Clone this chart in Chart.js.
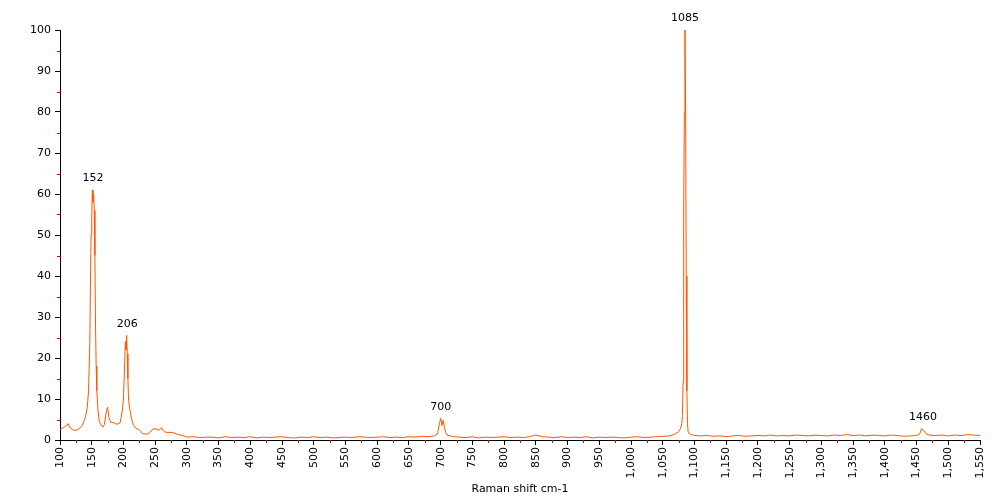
<!DOCTYPE html>
<html>
<head>
<meta charset="utf-8">
<script src="https://cdn.jsdelivr.net/npm/chart.js@4"></script>
<style>
  html, body { margin: 0; padding: 0; background: #fff; }
  #wrap { width: 1000px; height: 500px; }
</style>
</head>
<body>
<div id="wrap"><canvas id="raman"></canvas></div>
<script>
// Raman spectrum: [shift cm-1, intensity]
const spectrum = [
  [100, 2.5], [105, 3], [110, 3.5], [113, 4], [116, 3], [120, 2.5], [125, 2.3], [130, 2.8], [135, 3.5],
  [140, 5.5], [143, 8], [145, 12], [147, 24], [148, 38], [149, 50], [150, 54], [151, 61], [152, 58],
  [153, 60], [154, 56], [155, 45], [156, 28], [157, 18], [158, 12], [160, 7], [162, 4.5], [165, 3.5],
  [168, 3.2], [170, 3.8], [173, 7], [175, 8], [177, 5.5], [180, 4.3], [185, 4.2], [190, 3.8], [195, 4.3],
  [198, 7], [200, 10], [202, 19], [203, 24], [204, 22], [205, 25.5], [206, 21], [207, 15], [208, 10],
  [210, 7.5], [213, 5], [216, 3.5], [220, 2.8], [225, 2.5], [230, 1.6], [235, 1.4], [240, 1.6], [245, 2.5],
  [250, 2.8], [255, 2.4], [258, 2.6], [260, 3], [262, 2.4], [265, 2], [270, 1.8], [275, 1.9], [280, 1.7],
  [285, 1.4], [290, 1.2], [295, 1.0],
  [300, 0.7], [310, 0.8], [320, 0.6], [330, 0.7], [340, 0.7], [350, 0.5], [360, 0.8], [370, 0.6],
  [380, 0.7], [390, 0.6], [400, 0.8], [410, 0.5], [420, 0.7], [430, 0.6], [440, 0.7], [450, 0.8],
  [460, 0.6], [470, 0.5], [480, 0.7], [490, 0.6], [500, 0.8], [510, 0.6], [520, 0.7], [530, 0.5],
  [540, 0.6], [550, 0.7], [560, 0.6], [570, 0.8], [580, 0.7], [590, 0.6], [600, 0.7], [610, 0.8],
  [620, 0.6], [630, 0.7], [640, 0.6], [650, 0.8], [660, 0.7], [670, 0.9], [680, 0.8], [690, 1.0],
  [695, 1.5], [698, 4], [700, 5.3], [702, 3.5], [704, 4.8], [706, 3], [708, 1.8], [710, 1.2], [715, 1.0],
  [720, 0.8], [730, 0.7], [740, 0.6], [750, 0.8], [760, 0.5], [770, 0.7], [780, 0.6], [790, 0.7],
  [800, 0.8], [810, 0.6], [820, 0.7], [830, 0.6], [840, 0.8], [850, 1.2], [860, 0.8], [870, 0.7],
  [880, 0.6], [890, 0.8], [900, 0.6], [910, 0.7], [920, 0.6], [930, 0.8], [940, 0.5], [950, 0.7],
  [960, 0.6], [970, 0.7], [980, 0.6], [990, 0.5], [1000, 0.7], [1010, 0.8], [1020, 0.6], [1030, 0.7],
  [1040, 0.8], [1050, 0.9], [1060, 1.0], [1065, 1.2], [1070, 1.5], [1075, 2], [1078, 2.8], [1080, 4],
  [1081, 6], [1082, 14], [1083, 56], [1084, 80], [1085, 100], [1086, 80], [1087, 40], [1088, 12],
  [1089, 4], [1090, 2], [1093, 1.4], [1095, 1.3], [1100, 1.1],
  [1110, 1.0], [1120, 1.1], [1130, 0.9], [1140, 1.0], [1150, 0.8], [1160, 1.0], [1170, 1.1], [1180, 0.9],
  [1190, 1.0], [1200, 1.1], [1210, 1.0], [1220, 1.2], [1230, 1.0], [1240, 1.1], [1250, 1.0], [1260, 1.2],
  [1270, 1.1], [1280, 1.0], [1290, 1.2], [1300, 1.1], [1310, 1.0], [1320, 1.2], [1330, 1.1], [1340, 1.3],
  [1350, 1.1], [1360, 1.2], [1370, 1.0], [1380, 1.2], [1390, 1.1], [1400, 1.0], [1410, 1.2], [1420, 1.1],
  [1430, 0.9], [1440, 1.0], [1450, 1.1], [1455, 1.5], [1458, 2.8], [1460, 2.5], [1462, 2.2], [1465, 1.5],
  [1470, 1.2], [1480, 1.1], [1490, 1.2], [1500, 1.0], [1510, 1.2], [1520, 1.1], [1530, 1.3], [1540, 1.2],
  [1550, 1.1]
];
const peakShifts = [152, 206, 700, 1085, 1460];
const peakHeights = [61, 25.5, 5.3, 100, 2.8];
const xTicks = [100, 150, 200, 250, 300, 350, 400, 450, 500, 550, 600, 650, 700, 750, 800, 850, 900,
  950, 1000, 1050, 1100, 1150, 1200, 1250, 1300, 1350, 1400, 1450, 1500, 1550];
const yTicks = [0, 10, 20, 30, 40, 50, 60, 70, 80, 90, 100];

const font = { family: 'DejaVu Sans', size: 11 };

// red minor ticks + peak labels
const extras = {
  id: 'extras',
  afterDraw(chart) {
    const { ctx, scales: { x, y } } = chart;
    ctx.save();
    ctx.strokeStyle = '#e00000';
    ctx.lineWidth = 1;
    ctx.beginPath();
    for (let v = 125; v < 1550; v += 50) {
      const px = Math.round(x.getPixelForValue(v)) + 0.5;
      ctx.moveTo(px, y.bottom); ctx.lineTo(px, y.bottom + 3);
    }
    for (let v = 5; v < 100; v += 10) {
      const py = Math.round(y.getPixelForValue(v)) + 0.5;
      ctx.moveTo(x.left - 3, py); ctx.lineTo(x.left, py);
    }
    ctx.stroke();
    ctx.fillStyle = '#000';
    ctx.font = '11px "DejaVu Sans"';
    ctx.textAlign = 'center';
    ctx.textBaseline = 'bottom';
    peakShifts.forEach((s, i) => {
      ctx.fillText(String(s), x.getPixelForValue(s), y.getPixelForValue(peakHeights[i]) - 6);
    });
    ctx.restore();
  }
};

new Chart(document.getElementById('raman'), {
  type: 'line',
  data: {
    datasets: [{
      data: spectrum.map(([s, v]) => ({ x: s, y: v })),
      borderColor: '#ff5500',
      borderWidth: 1,
      pointRadius: 0,
      tension: 0,
      fill: false,
    }],
  },
  options: {
    responsive: true,
    maintainAspectRatio: false,
    animation: false,
    events: [],
    layout: { padding: { top: 30, right: 20, left: 0, bottom: 0 } },
    plugins: { legend: { display: false }, tooltip: { enabled: false } },
    scales: {
      x: {
        type: 'linear',
        min: 100,
        max: 1550,
        afterBuildTicks(axis) { axis.ticks = xTicks.map(v => ({ value: v })); },
        afterFit(axis) { axis.height = 60; },
        ticks: { color: '#000', font, maxRotation: 90, minRotation: 90, autoSkip: false, padding: 2 },
        grid: { drawOnChartArea: false, color: '#000', tickLength: 5 },
        border: { color: '#000' },
        title: { display: true, text: 'Raman shift cm-1', color: '#000', font, padding: { top: 0 } },
      },
      y: {
        min: 0,
        max: 100,
        afterBuildTicks(axis) { axis.ticks = yTicks.map(v => ({ value: v })); },
        afterFit(axis) { axis.width = 60; },
        ticks: { color: '#000', font, padding: 4 },
        grid: { drawOnChartArea: false, color: '#000', tickLength: 5 },
        border: { color: '#000' },
      },
    },
  },
  plugins: [extras],
});
</script>
</body>
</html>
